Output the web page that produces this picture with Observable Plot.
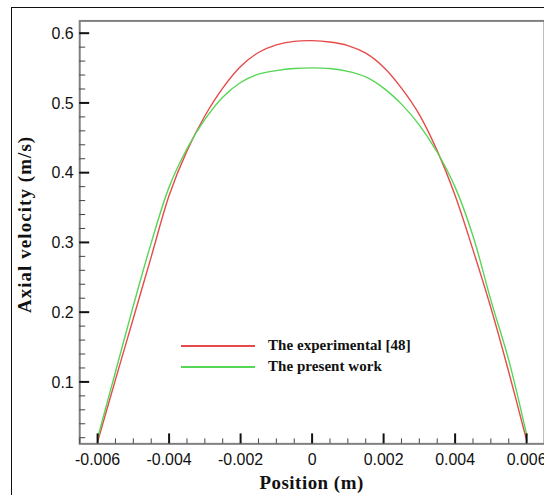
<!DOCTYPE html>
<html>
<head>
<meta charset="utf-8">
<script src="https://cdn.jsdelivr.net/npm/d3@7"></script>
<script src="https://cdn.jsdelivr.net/npm/@observablehq/plot@0.6"></script>
<style>
html, body { margin: 0; padding: 0; background: #fff; width: 544px; height: 495px; overflow: hidden; }
#wrap { position: relative; width: 544px; height: 495px; overflow: hidden; background: #fff; }
#border { position: absolute; left: 11px; top: 7px; width: 700px; height: 700px; border-left: 1.5px solid #111; border-top: 1.5px solid #111; box-sizing: border-box; background: transparent; pointer-events: none; }
#chart { position: absolute; left: 0; top: 0; }
.lg-line { position: absolute; height: 1.5px; width: 74px; left: 181px; }
.lg-text { position: absolute; left: 268px; font-family: "Liberation Serif", "Times New Roman", serif; font-weight: bold; font-size: 15px; line-height: 18px; color: #111; white-space: nowrap; letter-spacing: 0.05px; }
</style>
</head>
<body>
<div id="wrap">
  <div id="border"></div>
  <div id="chart"></div>
  <div id="legend"></div>
</div>
<script>
// ---- data ----
const positions = [-0.006, -0.0055, -0.005, -0.0045, -0.004, -0.0035, -0.003, -0.0025, -0.002, -0.0015, -0.001, -0.0005, 0,
                   0.0005, 0.001, 0.0015, 0.002, 0.0025, 0.003, 0.0035, 0.004, 0.0045, 0.005, 0.0055, 0.006];
const experimental = [0.015, 0.104, 0.192, 0.280, 0.368, 0.432, 0.482, 0.522, 0.553, 0.573, 0.584, 0.589, 0.590,
                      0.588, 0.583, 0.572, 0.552, 0.522, 0.484, 0.432, 0.368, 0.290, 0.207, 0.115, 0.017];
const presentWork = [0.020, 0.115, 0.210, 0.300, 0.380, 0.435, 0.477, 0.509, 0.530, 0.542, 0.547, 0.550, 0.551,
                     0.550, 0.546, 0.538, 0.522, 0.499, 0.469, 0.430, 0.380, 0.310, 0.218, 0.132, 0.025];
const seriesNames = ["The experimental [48]", "The present work"];
const seriesColors = ["#e64a4a", "#55d655"];
const xTicks = [-0.006, -0.004, -0.002, 0, 0.002, 0.004, 0.006];
const xTickLabels = ["-0.006", "-0.004", "-0.002", "0", "0.002", "0.004", "0.006"];
const yTicks = [0.1, 0.2, 0.3, 0.4, 0.5, 0.6];
const yTickLabels = ["0.1", "0.2", "0.3", "0.4", "0.5", "0.6"];
const xTitle = "Position (m)";
const yTitle = "Axial velocity (m/s)";

// ---- build table ----
const rows = [];
positions.forEach((p, i) => {
  rows.push({x: p, v: experimental[i], s: seriesNames[0]});
  rows.push({x: p, v: presentWork[i], s: seriesNames[1]});
});
const xMinor = d3.range(-13, 14).map(k => k * 0.0005).filter(v => Math.abs(Math.round(v / 0.0005)) % 4 !== 0);
const yMinor = d3.range(1, 31).map(k => +(k * 0.02).toFixed(2)).filter(v => Math.round(v * 100) % 10 !== 0);

const serif = "'Liberation Serif', 'Times New Roman', serif";
const W = 546, H = 495, ML = 79.5, MR = 0, MT = 20.5, MB = 50;
const xDomain = [-0.0065, 0.0065];
const yDomain = [0.0119, 0.6183];
const pxToX = (xDomain[1] - xDomain[0]) / (W - ML - MR);
const pxToY = (yDomain[1] - yDomain[0]) / (H - MT - MB);

const chart = Plot.plot({
  width: W,
  height: H,
  marginLeft: ML,
  marginRight: MR,
  marginTop: MT,
  marginBottom: MB,
  x: {domain: xDomain},
  y: {domain: yDomain},
  color: {domain: seriesNames, range: seriesColors},
  style: {fontFamily: "'Liberation Sans', Arial, sans-serif", fontSize: "16px", color: "#111", background: "transparent", overflow: "visible"},
  marks: [
    Plot.line(rows, {x: "x", y: "v", z: "s", stroke: "s", strokeWidth: 1.4, curve: "catmull-rom"}),
    Plot.frame({stroke: "#808080", strokeWidth: 2}),
    Plot.axisX(xMinor, {tickSize: -5, tickFormat: () => "", stroke: "#444", strokeWidth: 1, label: null}),
    Plot.axisX(xTicks, {tickSize: -10, tickFormat: () => "", stroke: "#111", strokeWidth: 2, label: null}),
    Plot.axisX(xTicks, {tickSize: 0, tickPadding: 10, tickFormat: (d, i) => xTickLabels[i], fill: "#111", label: null}),
    Plot.rect(yMinor, {x1: () => xDomain[0], x2: () => xDomain[0] + 6 * pxToX, y1: d => d - 0.5 * pxToY, y2: d => d + 0.5 * pxToY, fill: "#444"}),
    Plot.rect(yTicks, {x1: () => xDomain[0], x2: () => xDomain[0] + 10 * pxToX, y1: d => d - 1 * pxToY, y2: d => d + 1 * pxToY, fill: "#111"}),
    Plot.axisY(yTicks, {tickSize: 0, tickPadding: 6, tickFormat: (d, i) => yTickLabels[i], fill: "#111", label: null}),
    Plot.text([xTitle], {frameAnchor: "bottom", text: d => d, dy: 39, dx: -0.5, lineAnchor: "middle", textAnchor: "middle", fontFamily: serif, fontWeight: "bold", fontSize: 19, fill: "#111"}),
    Plot.text([yTitle], {frameAnchor: "left", text: d => d, dx: -54.5, dy: -8, rotate: -90, lineAnchor: "middle", textAnchor: "middle", fontFamily: serif, fontWeight: "bold", fontSize: 19, fill: "#111"})
  ]
});
chart.querySelectorAll("text").forEach(t => {
  if (t.textContent === xTitle) t.setAttribute("letter-spacing", "0.5");
  if (t.textContent === yTitle) t.setAttribute("letter-spacing", "1.1");
});
document.getElementById("chart").appendChild(chart);

// ---- legend ----
const legend = document.getElementById("legend");
const lineTops = [345, 366];
seriesNames.forEach((name, i) => {
  const ln = document.createElement("div");
  ln.className = "lg-line";
  ln.style.top = lineTops[i] + "px";
  ln.style.background = seriesColors[i];
  legend.appendChild(ln);
  const tx = document.createElement("div");
  tx.className = "lg-text";
  tx.style.top = (lineTops[i] - 9) + "px";
  tx.textContent = name;
  legend.appendChild(tx);
});
</script>
</body>
</html>
